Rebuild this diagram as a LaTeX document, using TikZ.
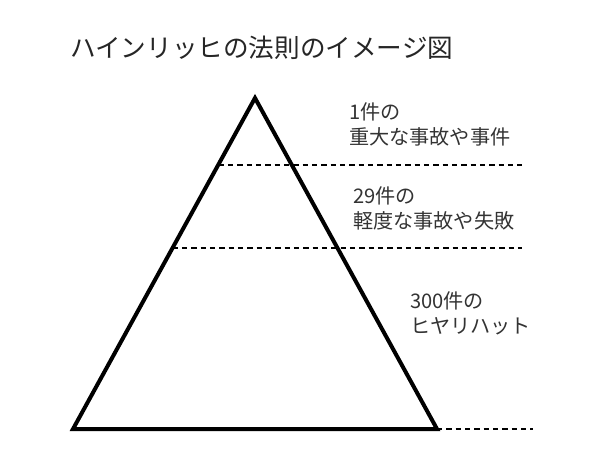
\documentclass[tikz,border=0pt]{standalone}
\usepackage{fontspec}
\setmainfont{Noto Sans CJK JP}
\tikzset{
  level/.style={draw, densely dashed, line width=0.8pt, dash pattern=on 4pt off 3pt},
  levellabel/.style={anchor=west, inner sep=0pt, align=left, text=black!80,
    font=\fontsize{15.1pt}{18.75pt}\selectfont}
}
\begin{document}
\begin{tikzpicture}[x=0.75pt,y=-0.75pt]
  \useasboundingbox (0,0) rectangle (607,462);
  \node[anchor=west, inner sep=0pt, font=\fontsize{19.2pt}{22pt}\selectfont, text=black!85]
    (title) at (70,48) {ハインリッヒの法則のイメージ図};
  \path
    (255,98) coordinate (top)
    (73,429) coordinate (bl)
    (437,429) coordinate (br)
    (218.5,165) coordinate (a1)
    (522,165) coordinate (a2)
    (172.5,248) coordinate (b1)
    (522,248) coordinate (b2)
    (533,429) coordinate (c2);
  \draw[line width=3pt, line join=miter] (top) -- (bl) -- (br) -- cycle;
  \draw[level] (a1) -- (a2);
  \draw[level] (b1) -- (b2);
  \draw[level] (br) -- (c2);
  \node[levellabel] (serious) at (349,124.5) {1件の\\重大な事故や事件};
  \node[levellabel] (minor) at (353,208.5) {29件の\\軽度な事故や失敗};
  \node[levellabel] (nearmiss) at (410,313) {300件の\\ヒヤリハット};
\end{tikzpicture}
\end{document}
